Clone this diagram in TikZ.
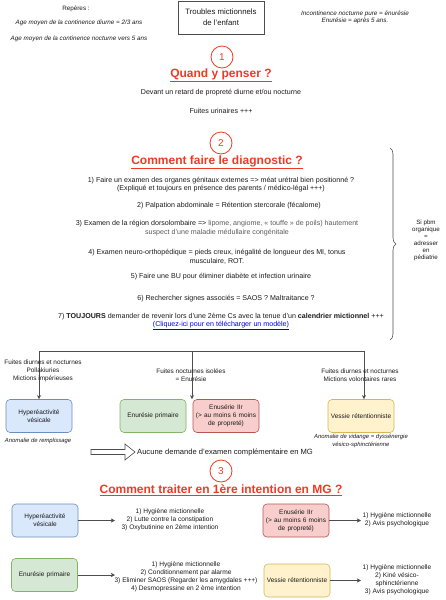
\documentclass[tikz,border=0pt]{standalone}
\usepackage{fontspec}
\setmainfont{Liberation Sans}
\usepackage{xcolor}
\usetikzlibrary{
  arrows.meta, positioning, calc,
  decorations.pathreplacing
}
\definecolor{C_RED} {HTML}{EE3A24}
\definecolor{C_LINK}{HTML}{0000EE}
\definecolor{C_TXT} {HTML}{1A1A1A}
\definecolor{C_GRY} {HTML}{5A5A5A}
\definecolor{C_LINE}{HTML}{4D4D4D}
\definecolor{HYP_BG}{HTML}{DAE8FC}
\definecolor{HYP_BD}{HTML}{6C8EBF}
\definecolor{PRI_BG}{HTML}{D5E8D4}
\definecolor{PRI_BD}{HTML}{82B366}
\definecolor{SEC_BG}{HTML}{F8CECC}
\definecolor{SEC_BD}{HTML}{B85450}
\definecolor{RET_BG}{HTML}{FFF2CC}
\definecolor{RET_BD}{HTML}{D6B656}
\tikzset{
  %% -- plain centred text --
  MT/txt/.style={font=\fontsize{7.1}{8.6}\selectfont, align=center, inner sep=0pt},
  %% -- small italic notes --
  MT/note/.style={font=\fontsize{6.3}{7.6}\selectfont\itshape, align=center, inner sep=0pt},
  %% -- title box --
  MT/title/.style={
    draw=C_LINE, line width=0.9pt, fill=white,
    minimum width=86pt, minimum height=33pt,
    align=center, font=\fontsize{7.8}{11}\selectfont
  },
  %% -- section number in a circle --
  MT/num/.style={
    circle, draw=C_RED, line width=0.8pt, minimum size=22pt,
    inner sep=0pt, text=C_RED, font=\fontsize{10}{10}\selectfont
  },
  %% -- section heading --
  MT/head/.style={text=C_RED, font=\fontsize{12}{14}\selectfont\bfseries, inner sep=0pt},
  %% -- coloured boxes --
  MT/box/.style={
    draw, rounded corners=4pt, line width=0.6pt,
    minimum width=66pt, minimum height=33pt, text width=64pt,
    align=center, inner sep=1pt, font=\fontsize{6.5}{7.9}\selectfont
  },
  MT/hyp/.style={MT/box, fill=HYP_BG, draw=HYP_BD},
  MT/pri/.style={MT/box, fill=PRI_BG, draw=PRI_BD},
  MT/sec/.style={MT/box, fill=SEC_BG, draw=SEC_BD},
  MT/ret/.style={MT/box, fill=RET_BG, draw=RET_BD},
  %% -- treatment lists --
  MT/treat/.style={font=\fontsize{6.6}{8}\selectfont, align=center, inner sep=0pt},
  %% -- branch labels --
  MT/lbl/.style={font=\fontsize{6.4}{8}\selectfont, align=center, inner sep=0pt},
  %% -- lines and arrows --
  MT/line/.style={C_LINE, line width=0.6pt},
  MT/arr/.style={-{Stealth[length=4pt, width=4pt, inset=1pt]}, C_LINE, line width=0.6pt},
  MT/brace/.style={decorate, decoration={brace, amplitude=6pt}, C_LINE, line width=0.6pt},
  MT/block/.style={draw=C_LINE, fill=white, line width=0.6pt},
}

\begin{document}
\begin{tikzpicture}[
  x=1pt, y=-1pt,
  every node/.style={text=C_TXT},
]
\useasboundingbox (0,0) rectangle (445,600);

%% ── Header ─────────────────────────────────────────────────────────────────
\node[MT/note, font=\fontsize{6.3}{7}\selectfont] (rep) at (76,9) {Repères :};
\node[MT/note] (ageJ) at (79,23) {Age moyen de la continence diurne = 2/3 ans};
\node[MT/note] (ageN) at (79,39) {Age moyen de la continence nocturne vers 5 ans};
\node[MT/title] (title) at (221,17.5) {Troubles mictionnels\\de l'enfant};
\node[MT/note, font=\fontsize{6.3}{7.6}\selectfont\itshape] (defE) at (355,17.5)
  {Incontinence nocturne pure = énurésie\\Enurésie = après 5 ans.};

%% ══════════════════════════════════════════════════════════════════════════
%% 1 — Quand y penser
%% ══════════════════════════════════════════════════════════════════════════
\node[MT/num] (n1) at (222,57) {1};
\node[MT/head] (h1) at (221,75) {\underline{Quand y penser ?}};
\node[MT/txt] (retard) at (221,93) {Devant un retard de propreté diurne et/ou nocturne};
\node[MT/txt] (fuites) at (221,111) {Fuites urinaires +++};

%% ══════════════════════════════════════════════════════════════════════════
%% 2 — Diagnostic
%% ══════════════════════════════════════════════════════════════════════════
\node[MT/num] (n2) at (221,143) {2};
\node[MT/head] (h2) at (217,162) {\underline{Comment faire le diagnostic ?}};

\node[MT/txt] (d1) at (221,184.5)
  {1) Faire un examen des organes génitaux externes => méat urétral bien positionné ?\\
   (Expliqué et toujours en présence des parents / médico-légal +++)};
\node[MT/txt] (d2) at (229,206) {2) Palpation abdominale = Rétention stercorale (fécalome)};
\node[MT/txt] (d3) at (217,228)
  {3) Examen de la région dorsolombaire => \textcolor{C_GRY}{lipome, angiome, « touffe » de poils) hautement}\\
   \textcolor{C_GRY}{suspect d'une maladie médullaire congénitale}};
\node[MT/txt] (d4) at (217,257)
  {4) Examen neuro-orthopédique = pieds creux, inégalité de longueur des MI, tonus\\
   musculaire, ROT.};
\node[MT/txt] (d5) at (221,277) {5) Faire une BU pour éliminer diabète et infection urinaire};
\node[MT/txt] (d6) at (226,299) {6) Rechercher signes associés = SAOS ? Maltraitance ?};
\node[MT/txt, font=\fontsize{7.1}{7.8}\selectfont] (d7) at (221,321.5)
  {7) \textbf{TOUJOURS} demander de revenir lors d'une 2ème Cs avec la tenue d'un \textbf{calendrier mictionnel} +++\\
   \textcolor{C_LINK}{\underline{(Cliquez-ici pour en télécharger un modèle)}}};

%% brace + note on the right
\coordinate (bT) at (390,148);
\coordinate (bB) at (390,340);
\draw[MT/brace] (bT) -- (bB);
\node[MT/lbl, font=\fontsize{6.2}{7}\selectfont] (orga) at (426,240)
  {Si pbm\\organique\\=\\adresser\\en\\pédiatrie};

%% ── Orientation tree ───────────────────────────────────────────────────────
\node[MT/hyp] (hyp1) at (39,416) {Hyperéactivité\\vésicale};
\node[MT/pri] (pri1) at (153,416) {Enurésie primaire};
\node[MT/sec] (sec1) at (226,416) {Enusérie IIr\\(> au moins 6 moins\\de propreté)};
\node[MT/ret] (ret1) at (361,416) {Vessie rétentionniste};

\coordinate (jL) at (39,351);
\coordinate (jM) at (192,351);
\coordinate (jR) at (364,351);
\draw[MT/line] (jL) -- (jR);
\draw[MT/arr] (jL) -- (hyp1.north);
\draw[MT/arr] (jM) -- (jM |- pri1.north);
\draw[MT/arr] (jR) -- (jR |- ret1.north);

\node[MT/lbl] (lblL) at (43,371)
  {Fuites diurnes et nocturnes\\Pollakiuries\\Mictions impérieuses};
\node[MT/lbl] (lblM) at (191,375) {Fuites nocturnes isolées\\= Enurésie};
\node[MT/lbl] (lblR) at (360,375) {Fuites diurnes et nocturnes\\Mictions volontaires rares};

\node[MT/note, font=\fontsize{5.9}{7.6}\selectfont\itshape] (anoR) at (38,441) {Anomalie de remplissage};
\node[MT/note, font=\fontsize{5.9}{7.6}\selectfont\itshape] (anoV) at (361,441)
  {Anomalie de vidange = dyssénergie\\vésico-sphinctérienne};

%% hollow block arrow
\draw[MT/block] (91,449.5) -- (125,449.5) -- (125,444) -- (135,452)
  -- (125,460) -- (125,454.5) -- (91,454.5) -- cycle;
\node[MT/txt, font=\fontsize{7.6}{9}\selectfont, anchor=west] (aucune) at (137,452)
  {Aucune demande d'examen complémentaire en MG};

%% ══════════════════════════════════════════════════════════════════════════
%% 3 — Traitement
%% ══════════════════════════════════════════════════════════════════════════
\node[MT/num] (n3) at (221,471) {3};
\node[MT/head] (h3) at (221,490) {\underline{Comment traiter en 1ère intention en MG ?}};

\node[MT/hyp] (hyp2) at (45,520.5) {Hyperéactivité\\vésicale};
\node[MT/sec] (sec2) at (296,520.5) {Enusérie IIr\\(> au moins 6 moins\\de propreté)};
\node[MT/pri] (pri2) at (44.5,575) {Enurésie primaire};
\node[MT/ret] (ret2) at (297,580.5) {Vessie rétentionniste};

\node[MT/treat] (tHyp) at (170,520)
  {1) Hygiène mictionnelle\\2) Lutte contre la constipation\\3) Oxybutinine en 2ème intention};
\node[MT/treat] (tSec) at (397,520)
  {1) Hygiène mictionnelle\\2) Avis psychologique};
\node[MT/treat] (tPri) at (186,577)
  {1) Hygiène mictionnelle\\2) Conditionnement par alarme\\3) Eliminer SAOS (Regarder les amygdales +++)\\4) Desmopressine en 2 ème intention};
\node[MT/treat] (tRet) at (397,580)
  {1) Hygiène mictionnelle\\2) Kiné vésico-\\sphinctérienne\\3) Avis psychologique};

\coordinate (eHyp) at (115,520.5);
\coordinate (eSec) at (361,520.5);
\coordinate (ePri) at (115,575);
\coordinate (eRet) at (361,580.5);
\draw[MT/arr] (hyp2.east) -- (eHyp);
\draw[MT/arr] (sec2.east) -- (eSec);
\draw[MT/arr] (pri2.east) -- (ePri);
\draw[MT/arr] (ret2.east) -- (eRet);

\end{tikzpicture}
\end{document}
